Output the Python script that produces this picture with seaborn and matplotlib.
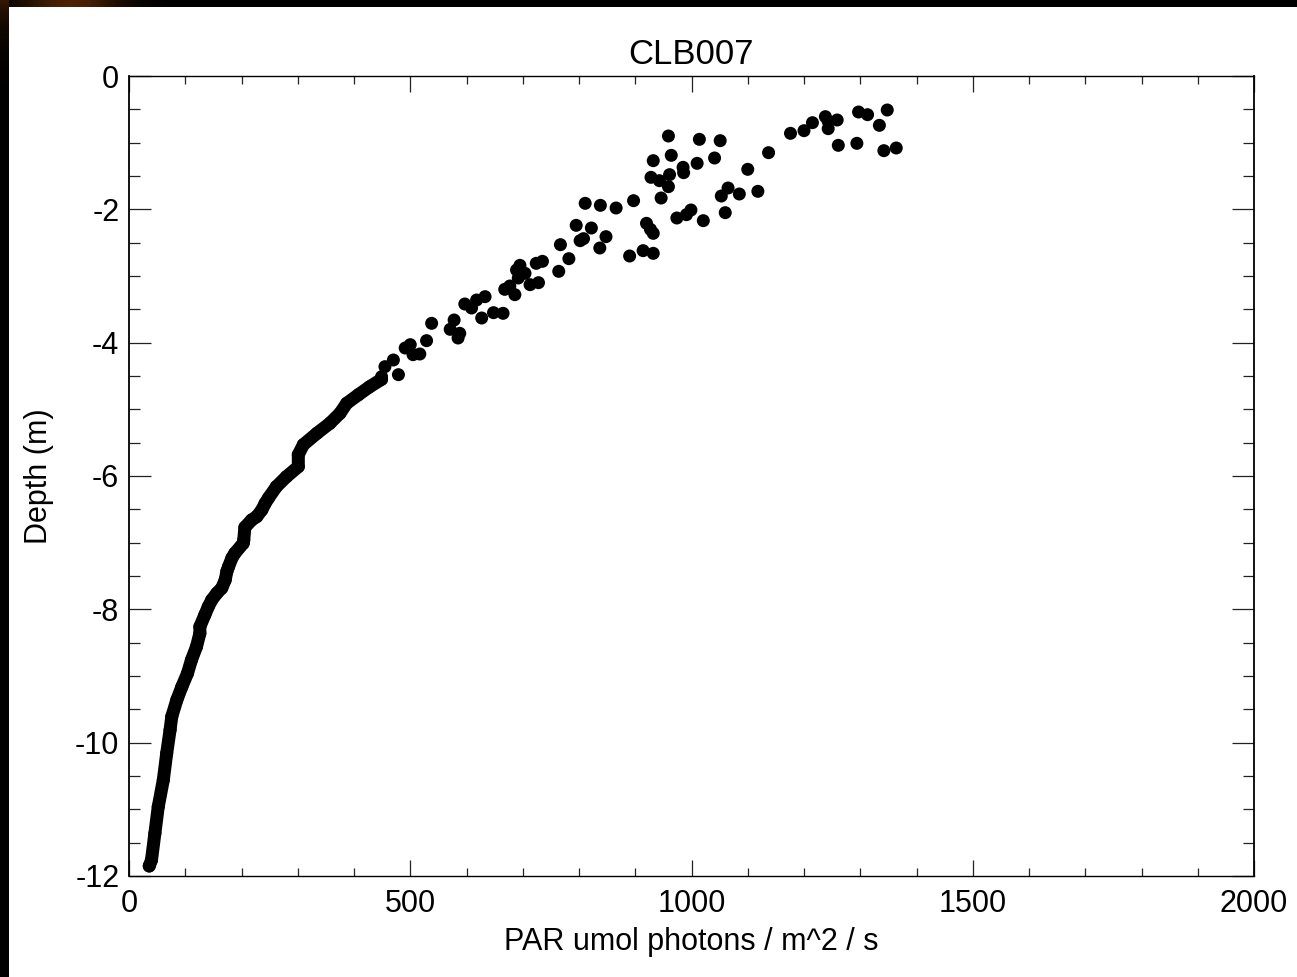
import numpy as np
import pandas as pd
import matplotlib
matplotlib.use("Agg")
import matplotlib.pyplot as plt
from matplotlib.ticker import MultipleLocator
import seaborn as sns

# Near-surface PAR readings (scattered cloud)
cloud_par = [959, 1014, 1051, 932, 964, 985, 986, 1010, 1041, 928, 943, 961, 959, 946,
             811, 838, 866, 897, 795, 822, 848, 802, 808, 837, 767, 782, 764, 920, 927,
             932, 890, 914, 932, 974, 991, 999, 1021, 1053, 1065, 1085, 1118, 1060, 1100,
             1137, 1176, 1200, 1215, 1238, 1243, 1259, 1243, 1261, 1294, 1297, 1313, 1348,
             1334, 1342, 1364, 735, 724, 695, 689, 704, 692, 728, 713, 668, 686, 665, 677,
             597, 618, 633, 627, 648, 609, 578, 571, 588, 585, 538, 529, 500, 505, 517,
             491, 470, 455, 479, 449]
cloud_depth = [-0.90, -0.95, -0.97, -1.27, -1.19, -1.37, -1.45, -1.31, -1.23, -1.52, -1.57,
               -1.48, -1.66, -1.83, -1.91, -1.94, -1.98, -1.87, -2.24, -2.28, -2.41, -2.47,
               -2.44, -2.58, -2.53, -2.74, -2.93, -2.21, -2.30, -2.36, -2.70, -2.62, -2.66,
               -2.13, -2.08, -2.01, -2.17, -1.80, -1.68, -1.77, -1.73, -2.05, -1.40, -1.15,
               -0.86, -0.82, -0.70, -0.61, -0.68, -0.66, -0.79, -1.04, -1.01, -0.54, -0.58,
               -0.51, -0.74, -1.12, -1.08, -2.78, -2.81, -2.84, -2.91, -2.96, -3.03, -3.10,
               -3.13, -3.20, -3.28, -3.56, -3.15, -3.42, -3.36, -3.31, -3.63, -3.55, -3.48,
               -3.66, -3.80, -3.86, -3.93, -3.71, -3.97, -4.03, -4.18, -4.17, -4.08, -4.26,
               -4.36, -4.48, -4.51]

# Deeper, densely sampled part of the cast
profile_par = [449, 428, 408, 387, 375, 357, 334, 310, 301, 301, 280, 262, 248, 242, 236,
               227, 218, 206, 204, 203, 188, 183, 177, 174, 171, 165, 156, 147, 141, 135,
               126, 126, 120, 111, 104, 94, 85, 76, 73, 67, 61, 52, 46, 40, 36]
profile_depth = [-4.55, -4.66, -4.78, -4.91, -5.06, -5.21, -5.36, -5.53, -5.68, -5.86, -6.01,
                 -6.16, -6.33, -6.41, -6.51, -6.61, -6.66, -6.77, -6.96, -7.01, -7.16, -7.23,
                 -7.36, -7.43, -7.56, -7.68, -7.76, -7.86, -7.96, -8.08, -8.26, -8.36, -8.56,
                 -8.76, -8.96, -9.16, -9.36, -9.61, -9.81, -10.16, -10.56, -10.96, -11.36,
                 -11.76, -11.85]

title = "CLB007"
x_label = "PAR umol photons / m^2 / s"
y_label = "Depth (m)"

sns.set_theme(style="ticks")
plt.rcParams["font.family"] = ["Liberation Sans", "DejaVu Sans"]
plt.rcParams["axes.unicode_minus"] = False
plt.rcParams["text.color"] = "black"
plt.rcParams["axes.labelcolor"] = "black"

cloud = pd.DataFrame({"par": cloud_par, "depth": cloud_depth})
profile = pd.DataFrame({"par": profile_par, "depth": profile_depth})

W, H = 1297, 977
fig = plt.figure(figsize=(W / 100, H / 100), dpi=100, facecolor="white")

# dark screen border along the top and left edges, with a faint warm glow
top = np.zeros((7, W, 3))
cols = np.arange(W)
glow = np.exp(-((cols - 70.0) ** 2) / (2 * 35.0 ** 2))
top[:, :, 0] = 0.30 * glow
top[:, :, 1] = 0.13 * glow
top[:, :, 2] = 0.02 * glow
fig.figimage(top, xo=0, yo=H - 7, origin="upper", zorder=0)
left = np.zeros((H, 9, 3))
rows = np.arange(H)
lglow = np.exp(-rows / 25.0)
left[:, :, 0] = (0.22 * lglow)[:, None]
left[:, :, 1] = (0.09 * lglow)[:, None]
left[:, :, 2] = (0.01 * lglow)[:, None]
fig.figimage(left, xo=0, yo=0, origin="upper", zorder=0)

ax = fig.add_axes([129 / W, 101 / H, 1125 / W, 800 / H])
ax.set_facecolor("white")

dot_pt = 13 * 0.72
sns.lineplot(data=profile, x="par", y="depth", sort=False, estimator=None, ax=ax,
             color="black", linewidth=dot_pt, solid_capstyle="round",
             solid_joinstyle="round", zorder=3)
sns.scatterplot(data=profile, x="par", y="depth", ax=ax, color="black", s=dot_pt ** 2,
                edgecolor="none", linewidth=0, zorder=3)
sns.scatterplot(data=cloud, x="par", y="depth", ax=ax, color="black", s=dot_pt ** 2,
                edgecolor="none", linewidth=0, zorder=3)

ax.set_xlim(0, 2000)
ax.set_ylim(-12, 0)
ax.xaxis.set_major_locator(MultipleLocator(500))
ax.xaxis.set_minor_locator(MultipleLocator(100))
ax.yaxis.set_major_locator(MultipleLocator(2))
ax.yaxis.set_minor_locator(MultipleLocator(0.5))

ax.tick_params(axis="both", which="both", direction="in", top=True, right=True,
               colors="#222222", labelcolor="black", width=0.9, labelsize=22)
ax.tick_params(axis="x", which="major", length=11.5, pad=9.5)
ax.tick_params(axis="x", which="minor", length=5.8)
ax.tick_params(axis="y", which="major", length=15.8, pad=7)
ax.tick_params(axis="y", which="minor", length=7.9)

for side, sp in ax.spines.items():
    sp.set_visible(True)
    sp.set_color("black")
    sp.set_linewidth(1.3 if side in ("left", "right") else 1.0)

ax.set_title(title, fontsize=25, pad=9, color="black")
ax.set_xlabel(x_label, fontsize=22, color="black")
ax.set_ylabel(y_label, fontsize=22, color="black")
ax.xaxis.set_label_coords(0.5, -0.064)
ax.yaxis.set_label_coords(-0.0667, 0.5)

fig.savefig("out.png", dpi=100, facecolor=fig.get_facecolor())
